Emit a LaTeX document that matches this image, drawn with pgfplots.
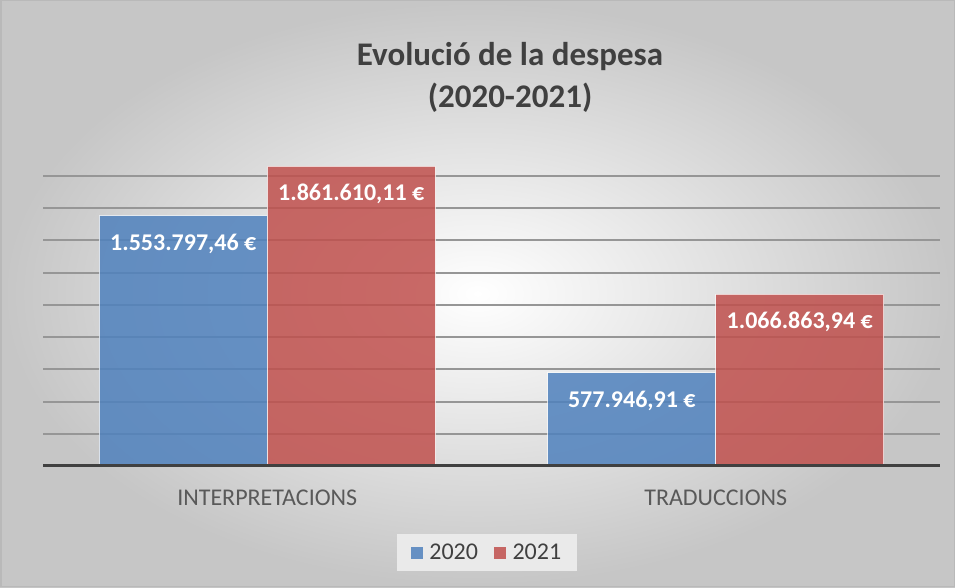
\documentclass[border=0pt]{standalone}
\usepackage{fontspec}
\setmainfont{Carlito}
\usepackage{pgfplots}
\usepackage{pgfplotstable}
\pgfplotsset{compat=1.18}
\definecolor{bblue}{RGB}{79,129,189}
\definecolor{bred}{RGB}{192,80,77}
\definecolor{gridc}{RGB}{150,150,150}
\definecolor{axc}{RGB}{64,64,64}
\definecolor{txt}{RGB}{89,89,89}
\definecolor{ttl}{RGB}{64,64,64}
\definecolor{legbg}{RGB}{234,234,234}

\pgfplotstableread{
x y label
0 1553797.46 {1.553.797,46 €}
1 577946.91 {577.946,91 €}
}\dataA
\pgfplotstableread{
x y label
0 1861610.11 {1.861.610,11 €}
1 1066863.94 {1.066.863,94 €}
}\dataB

\begin{document}
\begin{tikzpicture}[x=1pt,y=1pt]
\shade[inner color=white, outer color=gray!45] (0,0) rectangle (955,587);
\useasboundingbox (0,0) rectangle (955,587);
\begin{axis}[
  at={(43pt,121pt)}, anchor=south west,
  scale only axis, width=897pt, height=322.2pt,
  xmin=-0.5, xmax=1.5, ymin=0, ymax=2000000,
  axis line style={draw=none},
  tick style={draw=none},
  major tick length=0pt,
  scaled y ticks=false,
  ytick={200000,400000,600000,800000,1000000,1200000,1400000,1600000,1800000},
  yticklabels={},
  ymajorgrids,
  grid style={gridc, line width=2pt},
  xtick={0,1},
  xticklabels={INTERPRETACIONS,TRADUCCIONS},
  xticklabel style={font=\fontsize{24}{24}\selectfont, text=txt, anchor=base, yshift=-39pt},
  ybar=0pt, bar width=168pt,
  nodes near coords,
  point meta=explicit symbolic,
  every node near coord/.append style={font=\bfseries\fontsize{24}{24}\selectfont, text=white, text opacity=1, anchor=center, yshift=-28pt},
  legend columns=2,
  legend style={at={(0.495,-0.2685)}, anchor=center, fill=legbg, draw=none,
    inner xsep=14pt, inner ysep=8pt,
    font=\fontsize{24}{24}\selectfont, text=axc,
    /tikz/every even column/.append style={column sep=14pt}},
  legend image code/.code={\fill[#1, draw=none] (0pt,-6pt) rectangle (12pt,6pt); \path (16pt,0pt);},
]
\addplot[fill=bblue, fill opacity=0.85, draw=white, draw opacity=0.7, line width=1pt] table[x=x,y=y,meta=label]{\dataA};
\addplot[fill=bred, fill opacity=0.85, draw=white, draw opacity=0.7, line width=1pt] table[x=x,y=y,meta=label]{\dataB};
\legend{2020,2021}
\draw[axc, line width=4pt] (rel axis cs:0,0) -- (rel axis cs:1,0);
\end{axis}
\node[font=\bfseries\fontsize{33}{42}\selectfont, text=ttl, align=center] at (510,510) {Evolució de la despesa\\(2020-2021)};
\draw[gray!55, line width=1.5pt] (0.75,0.75) rectangle (954.25,586.25);
\end{tikzpicture}
\end{document}
